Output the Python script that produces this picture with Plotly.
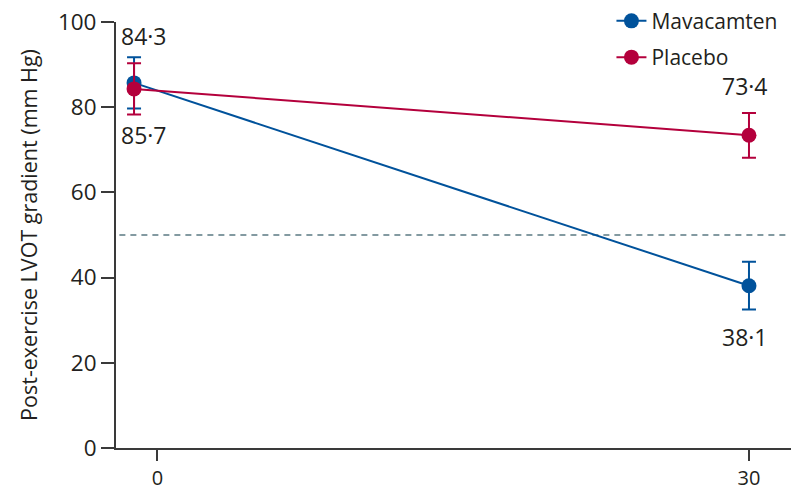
import plotly.graph_objects as go

# Post-exercise LVOT gradient (mm Hg), mean ± SE, at baseline and week 30
weeks = [0, 30]
mava_mean = [85.7, 38.1]
mava_se = [6.0, 5.6]
placebo_mean = [84.3, 73.4]
placebo_se = [6.0, 5.25]

x_tick_pos = [1.14, 30]
x_tick_labels = ["0", "30"]
y_ticks = [0, 20, 40, 60, 80, 100]
threshold = 50

BLUE = "#00529b"
RED = "#b4003c"
INK = "#231f20"
FONT = "Open Sans"


def fmt(v):
    return f"{v:.1f}".replace(".", "\u00b7")


fig = go.Figure()

fig.add_trace(go.Scatter(
    x=weeks, y=mava_mean, name="Mavacamten", mode="lines+markers",
    legendgroup="m",
    line=dict(color=BLUE, width=2),
    marker=dict(color=BLUE, size=15),
    error_y=dict(type="data", array=mava_se, color=BLUE, thickness=2, width=7),
))
fig.add_trace(go.Scatter(
    x=weeks, y=placebo_mean, name="Placebo", mode="lines+markers",
    legendgroup="p",
    line=dict(color=RED, width=2),
    marker=dict(color=RED, size=15),
    error_y=dict(type="data", array=placebo_se, color=RED, thickness=2, width=7),
))

# Value labels: placebo above its upper bar, mavacamten below its lower bar
x_shifts = [10, -3.5]
for i, w in enumerate(weeks):
    fig.add_annotation(
        x=w, y=placebo_mean[i] + placebo_se[i], text=fmt(placebo_mean[i]),
        showarrow=False, yanchor="bottom", xshift=x_shifts[i], yshift=9,
        font=dict(family=FONT, size=23, color=INK),
    )
    fig.add_annotation(
        x=w, y=mava_mean[i] - mava_se[i], text=fmt(mava_mean[i]),
        showarrow=False, yanchor="top", xshift=x_shifts[i], yshift=-9,
        font=dict(family=FONT, size=23, color=INK),
    )

# Dashed reference line at 50 mm Hg
fig.add_shape(
    type="line", xref="paper", x0=0.005, x1=0.995, yref="y", y0=threshold, y1=threshold,
    line=dict(color="#5b7a82", width=1.6, dash="6px,5px"), layer="below",
)

fig.update_layout(
    width=791, height=488,
    margin=dict(l=116, r=0, t=22, b=40),
    paper_bgcolor="white", plot_bgcolor="white",
    font=dict(family=FONT, color=INK),
    showlegend=True,
    legend=dict(
        x=0.734, y=1.05, xanchor="left", yanchor="top",
        font=dict(family=FONT, size=21, color=INK),
        bgcolor="rgba(0,0,0,0)", tracegroupgap=6, traceorder="grouped",
    ),
    xaxis=dict(
        range=[-0.88, 32.05], tickvals=x_tick_pos, ticktext=x_tick_labels,
        showline=True, linecolor="#3a3a3a", linewidth=2,
        ticks="outside", ticklen=11, tickwidth=2, tickcolor="#3a3a3a",
        showgrid=False, zeroline=False, automargin=False,
        tickfont=dict(family=FONT, size=20, color=INK),
    ),
    yaxis=dict(
        range=[0, 100], tickvals=y_ticks,
        showline=True, linecolor="#3a3a3a", linewidth=2,
        ticks="outside", ticklen=13, tickwidth=2, tickcolor="#3a3a3a",
        showgrid=False, zeroline=False, automargin=False,
        tickfont=dict(family=FONT, size=22.5, color=INK),
        title=dict(text="Post-exercise LVOT gradient (mm Hg)",
                   font=dict(family=FONT, size=21.5, color=INK), standoff=14),
    ),
)

fig.write_html("out.html")
